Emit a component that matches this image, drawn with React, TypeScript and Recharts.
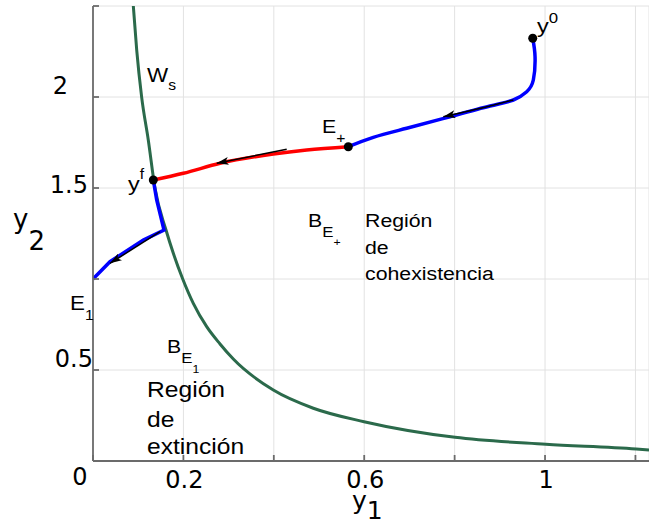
import React from "react";
import {
  ComposedChart,
  Line,
  Scatter,
  XAxis,
  YAxis,
  CartesianGrid,
  ReferenceDot,
  Label,
} from "recharts";

// ticks, and what gets printed at them ("" = tick mark only)
const xTicks = [0, 0.2, 0.4, 0.6, 0.8, 1, 1.2];
const xTickLabels = ["0", "0.2", "", "0.6", "", "1", ""];
const yTicks = [0, 0.5, 1, 1.5, 2, 2.5];
const yTickLabels = ["", "0.5", "", "1.5", "2", ""];

// separatrix W_s
const wsCurve = [
  { x: 0.0892, y: 2.5 },
  { x: 0.0967, y: 2.258 },
  { x: 0.1077, y: 1.998 },
  { x: 0.1223, y: 1.764 },
  { x: 0.1372, y: 1.498 },
  { x: 0.1615, y: 1.269 },
  { x: 0.1777, y: 1.141 },
  { x: 0.1985, y: 1.0 },
  { x: 0.2219, y: 0.866 },
  { x: 0.2515, y: 0.738 },
  { x: 0.281, y: 0.643 },
  { x: 0.3104, y: 0.56 },
  { x: 0.3989, y: 0.39 },
  { x: 0.4874, y: 0.29 },
  { x: 0.5996, y: 0.216 },
  { x: 0.8009, y: 0.13 },
  { x: 1.0018, y: 0.092 },
  { x: 1.2016, y: 0.066 },
  { x: 1.2301, y: 0.06 },
];

// y0 -> E+ (blue)
const blueFromY0 = [
  { x: 0.9728, y: 2.3225 },
  { x: 0.9779, y: 2.2215 },
  { x: 0.9741, y: 2.0934 },
  { x: 0.9595, y: 2.0291 },
  { x: 0.9299, y: 1.9835 },
  { x: 0.8783, y: 1.9505 },
  { x: 0.7898, y: 1.8918 },
  { x: 0.694, y: 1.828 },
  { x: 0.6201, y: 1.7786 },
  { x: 0.5648, y: 1.7269 },
];

// E+ -> yf (red)
const redPath = [
  { x: 0.1334, y: 1.544 },
  { x: 0.1998, y: 1.5808 },
  { x: 0.281, y: 1.6357 },
  { x: 0.3989, y: 1.6868 },
  { x: 0.4728, y: 1.7088 },
  { x: 0.5648, y: 1.7269 },
];

// yf -> E1 (blue)
const blueToE1 = [
  { x: 0.1334, y: 1.544 },
  { x: 0.1409, y: 1.434 },
  { x: 0.1571, y: 1.269 },
  { x: 0.1113, y: 1.214 },
  { x: 0.0376, y: 1.095 },
  { x: 0, y: 1.0 },
];

// direction arrows
const arrowTop = [
  { x: 0.9299, y: 1.984 },
  { x: 0.8783, y: 1.951 },
  { x: 0.775, y: 1.892 },
];
const arrowRed = [
  { x: 0.4285, y: 1.7126 },
  { x: 0.2737, y: 1.6357 },
];
const arrowLeft = [
  { x: 0.1482, y: 1.26 },
  { x: 0.0376, y: 1.086 },
];

// y0, E+, yf
const keyPoints = [
  { x: 0.9728, y: 2.3225 },
  { x: 0.5648, y: 1.7269 },
  { x: 0.1334, y: 1.544 },
];

const TICK_FONT = "DejaVu Sans";
const NOTE_FONT = "Liberation Sans";

const XTick = (p: any) => {
  const i = xTicks.indexOf(p.payload.value);
  const txt = xTickLabels[i];
  if (!txt) return null;
  const isZero = p.payload.value === 0;
  return (
    <text
      x={p.x + (isZero ? -13 : 1)}
      y={p.y + (isZero ? 30 : 33)}
      textAnchor="middle"
      fontFamily={TICK_FONT}
      fontSize={24}
      fill="#000"
    >
      {txt}
    </text>
  );
};

const yShift: Record<string, [number, number]> = {
  "2": [-31, -3],
  "1.5": [-11, 5],
  "0.5": [-6, -3],
};

const YTick = (p: any) => {
  const i = yTicks.indexOf(p.payload.value);
  const txt = yTickLabels[i];
  if (!txt) return null;
  const [dx, dy] = yShift[txt] || [0, 0];
  return (
    <text
      x={p.x + dx}
      y={p.y + dy}
      textAnchor="end"
      fontFamily={TICK_FONT}
      fontSize={24}
      fill="#000"
    >
      {txt}
    </text>
  );
};

// text with sub/superscripts: parts = [text, dy, size]
const Note = (parts: [string, number, number][]) => (p: any) => (
  <text
    transform={`translate(${p.cx},${p.cy}) scale(1.12,1)`}
    fontFamily={NOTE_FONT}
    fill="#000"
  >
    {parts.map(([t, dy, s], i) => (
      <tspan key={i} dy={dy} fontSize={s}>
        {t}
      </tspan>
    ))}
  </text>
);

const Block = (lines: string[], gaps: number[], size: number) => (p: any) => (
  <text
    transform={`translate(${p.cx},${p.cy}) scale(1.12,1)`}
    fontFamily={NOTE_FONT}
    fontSize={size}
    fill="#000"
  >
    {lines.map((t, i) => (
      <tspan key={i} x={0} dy={i === 0 ? 0 : gaps[i - 1]}>
        {t}
      </tspan>
    ))}
  </text>
);

export default function App() {
  return (
    <div style={{ position: "absolute", left: 0, top: 0, background: "#fff" }}>
      <ComposedChart
        width={649}
        height={525}
        margin={{ top: 6, right: 0, bottom: 0, left: 0 }}
      >
        <defs>
          <marker
            id="arrowHead"
            viewBox="0 0 12 8"
            refX={12}
            refY={4}
            markerWidth={12}
            markerHeight={8}
            markerUnits="userSpaceOnUse"
            orient="auto"
          >
            <path d="M0,0 L12,4 L0,8 L3,4 z" fill="#000" />
          </marker>
        </defs>
        <CartesianGrid stroke="#e2e2e2" strokeWidth={1} />
        <XAxis
          dataKey="x"
          type="number"
          domain={[0, 1.23]}
          ticks={xTicks}
          interval={0}
          allowDataOverflow
          height={64}
          stroke="#6b6b6b"
          strokeWidth={1.8}
          tickSize={-6}
          tickMargin={0}
          tick={<XTick />}
        >
          <Label
            content={(p: any) => (
              <text
                x={p.viewBox.x + 259}
                y={p.viewBox.y + 48}
                fontFamily={TICK_FONT}
                fontSize={25}
                fill="#000"
              >
                y<tspan dy={10}>1</tspan>
              </text>
            )}
          />
        </XAxis>
        <YAxis
          type="number"
          domain={[0, 2.5]}
          ticks={yTicks}
          interval={0}
          allowDataOverflow
          width={93}
          stroke="#6b6b6b"
          strokeWidth={1.8}
          tickSize={-6}
          tickMargin={0}
          tick={<YTick />}
        >
          <Label
            content={(p: any) => (
              <text
                x={13}
                y={p.viewBox.y + 222}
                fontFamily={TICK_FONT}
                fontSize={26}
                fill="#000"
              >
                y<tspan dy={22}>2</tspan>
              </text>
            )}
          />
        </YAxis>

        <Line
          data={wsCurve}
          dataKey="y"
          type="monotone"
          stroke="#2b6a4b"
          strokeWidth={3}
          dot={false}
          isAnimationActive={false}
        />
        <Line
          data={blueToE1}
          dataKey="y"
          type="linear"
          stroke="#0000ff"
          strokeWidth={3.5}
          dot={false}
          isAnimationActive={false}
        />
        <Line
          data={blueFromY0}
          dataKey="y"
          type="natural"
          stroke="#0000ff"
          strokeWidth={3.5}
          dot={false}
          isAnimationActive={false}
        />
        <Line
          data={redPath}
          dataKey="y"
          type="monotone"
          stroke="#ff0000"
          strokeWidth={3.5}
          dot={false}
          isAnimationActive={false}
        />
        {[arrowTop, arrowRed, arrowLeft].map((a, i) => (
          <Line
            key={i}
            data={a}
            dataKey="y"
            type="monotone"
            stroke="#000"
            strokeWidth={1.5}
            dot={false}
            markerEnd="url(#arrowHead)"
            isAnimationActive={false}
          />
        ))}
        <Scatter
          data={keyPoints}
          dataKey="y"
          fill="#000"
          isAnimationActive={false}
          shape={(p: any) => <circle cx={p.cx} cy={p.cy} r={4.5} fill="#000" />}
        />

        <ReferenceDot x={0.1195} y={2.0824} r={0} ifOverflow="visible" shape={Note([["W", 0, 20], ["s", 8, 14]])} />
        <ReferenceDot x={0.0775} y={1.4835} r={0} ifOverflow="visible" shape={Note([["y", 0, 21], ["f", -12, 14]])} />
        <ReferenceDot x={0.5066} y={1.8022} r={0} ifOverflow="visible" shape={Note([["E", 0, 19], ["+", 10, 14]])} />
        <ReferenceDot x={0.9823} y={2.3516} r={0} ifOverflow="visible" shape={Note([["y", 0, 21], ["0", -10, 15]])} />
        <ReferenceDot x={-0.0509} y={0.8297} r={0} ifOverflow="visible" shape={Note([["E", 0, 20], ["1", 10, 14]])} />
        <ReferenceDot x={0.1637} y={0.5934} r={0} ifOverflow="visible" shape={Note([["B", 0, 19], ["E", 10, 15], ["1", 10, 11]])} />
        <ReferenceDot x={0.4757} y={1.2857} r={0} ifOverflow="visible" shape={Note([["B", 0, 19], ["E", 10, 15], ["+", 9, 11]])} />
        <ReferenceDot x={0.6018} y={1.2857} r={0} ifOverflow="visible" shape={Block(["Región", "de", "cohexistencia"], [27, 26], 19)} />
        <ReferenceDot x={0.1195} y={0.3516} r={0} ifOverflow="visible" shape={Block(["Región", "de", "extinción"], [30, 27], 22)} />
      </ComposedChart>
    </div>
  );
}
